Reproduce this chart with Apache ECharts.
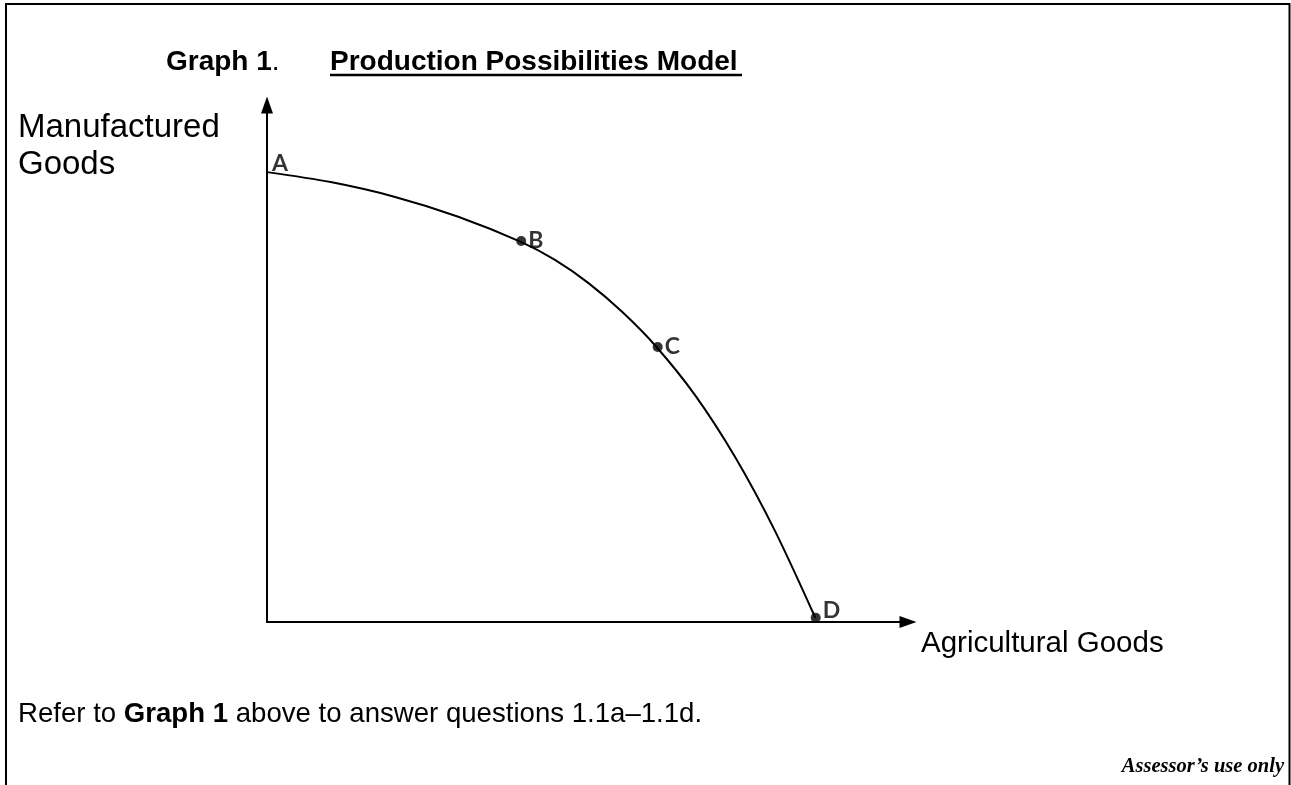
<!DOCTYPE html>
<html>
<head>
<meta charset="utf-8">
<title>Production Possibilities Model</title>
<script src="https://cdn.jsdelivr.net/npm/echarts@6/dist/echarts.min.js"></script>
<style>
  html, body { margin: 0; padding: 0; background: #fff; }
  #chart { width: 1291px; height: 785px; }
</style>
</head>
<body>
<div id="chart"></div>
<script>
// Production possibilities frontier: agricultural goods (x) vs manufactured goods (y)
const curveX = [0, 9.78, 19.57, 29.31, 39.14, 44.3, 49.46, 54.62, 59.78, 65.87, 71.96, 78.04, 84.36];
const curveY = [85.71, 83.81, 81.03, 77.26, 72.38, 68.99, 64.57, 59.1, 52.59, 43.18, 31.52, 17.6, 0.76];

// Labelled combinations on the frontier
const pointNames = ['A', 'B', 'C', 'D'];
const pointX = [0, 39.1, 60.1, 84.4];
const pointY = [85.71, 72.6, 52.4, 0.8];

const xAxisName = 'Agricultural Goods';
const yAxisName = 'Manufactured\nGoods';

const chart = echarts.init(document.getElementById('chart'), null, { renderer: 'canvas' });

const curveData = curveX.map((x, i) => [x, curveY[i]]);
const pointData = pointNames.map((name, i) => {
  const item = { name: name, value: [pointX[i], pointY[i]] };
  if (name === 'A') {
    // the intercept is marked by its letter only
    item.symbolSize = 0;
    item.label = { distance: 5, offset: [0, -9] };
  } else if (name === 'D') {
    item.label = { offset: [0, -7] };
  }
  return item;
});

const sans = 'Liberation Sans, Arial, sans-serif';

chart.setOption({
  animation: false,
  backgroundColor: '#ffffff',
  grid: { left: 267, right: 383, top: 105, bottom: 163, containLabel: false },
  xAxis: {
    type: 'value', min: 0, max: 98.6,
    axisLine: { show: true, symbol: ['none', 'triangle'], symbolSize: [12, 17],
      lineStyle: { color: '#000', width: 2 } },
    axisTick: { show: false }, axisLabel: { show: false }, splitLine: { show: false }
  },
  yAxis: {
    type: 'value', min: 0, max: 98.5,
    axisLine: { show: true, symbol: ['none', 'triangle'], symbolSize: [12, 17],
      lineStyle: { color: '#000', width: 2 } },
    axisTick: { show: false }, axisLabel: { show: false }, splitLine: { show: false }
  },
  series: [
    {
      type: 'line', data: curveData, smooth: 0.3, showSymbol: false,
      lineStyle: { color: '#000', width: 2 }, z: 3
    },
    {
      type: 'scatter', data: pointData, symbol: 'circle', symbolSize: 10,
      itemStyle: { color: '#000' }, z: 4,
      label: {
        show: true, position: 'right', distance: 2,
        formatter: p => p.name,
        fontFamily: 'Lato, Open Sans, sans-serif', fontWeight: 'bold', fontSize: 23, color: '#000'
      }
    }
  ],
  graphic: [
    // page frame
    { type: 'polyline', shape: { points: [[6, 785], [6, 4], [1289.5, 4], [1289.5, 785]] },
      style: { stroke: '#000', lineWidth: 2, fill: null } },
    // title
    { type: 'text', left: 166, top: 48,
      style: { text: '{b|Graph 1}{n|.}', rich: {
        b: { fontFamily: sans, fontWeight: 'bold', fontSize: 28, fill: '#000' },
        n: { fontFamily: sans, fontSize: 28, fill: '#000' } } } },
    { type: 'text', left: 330, top: 48,
      style: { text: 'Production Possibilities Model', fontFamily: sans, fontWeight: 'bold', fontSize: 28, fill: '#000' } },
    { type: 'line', shape: { x1: 330, y1: 75, x2: 742, y2: 75 }, style: { stroke: '#000', lineWidth: 2.5 } },
    // axis names
    { type: 'text', left: 18, top: 109,
      style: { text: yAxisName, fontFamily: sans, fontSize: 33, lineHeight: 37, fill: '#000' } },
    { type: 'text', left: 921, top: 629,
      style: { text: xAxisName, fontFamily: sans, fontSize: 29.5, fill: '#000' } },
    // note below the graph
    { type: 'text', left: 18, top: 700,
      style: { text: 'Refer to {b|Graph 1} above to answer questions 1.1a\u20131.1d.',
        fontFamily: sans, fontSize: 27.6, fill: '#000',
        rich: { b: { fontFamily: sans, fontWeight: 'bold', fontSize: 27.6, fill: '#000' } } } },
    { type: 'text', right: 7, top: 757,
      style: { text: 'Assessor\u2019s use only', fontFamily: 'Liberation Serif, Times New Roman, serif',
        fontWeight: 'bold', fontStyle: 'italic', fontSize: 20.5, fill: '#000' } }
  ]
});
</script>
</body>
</html>
